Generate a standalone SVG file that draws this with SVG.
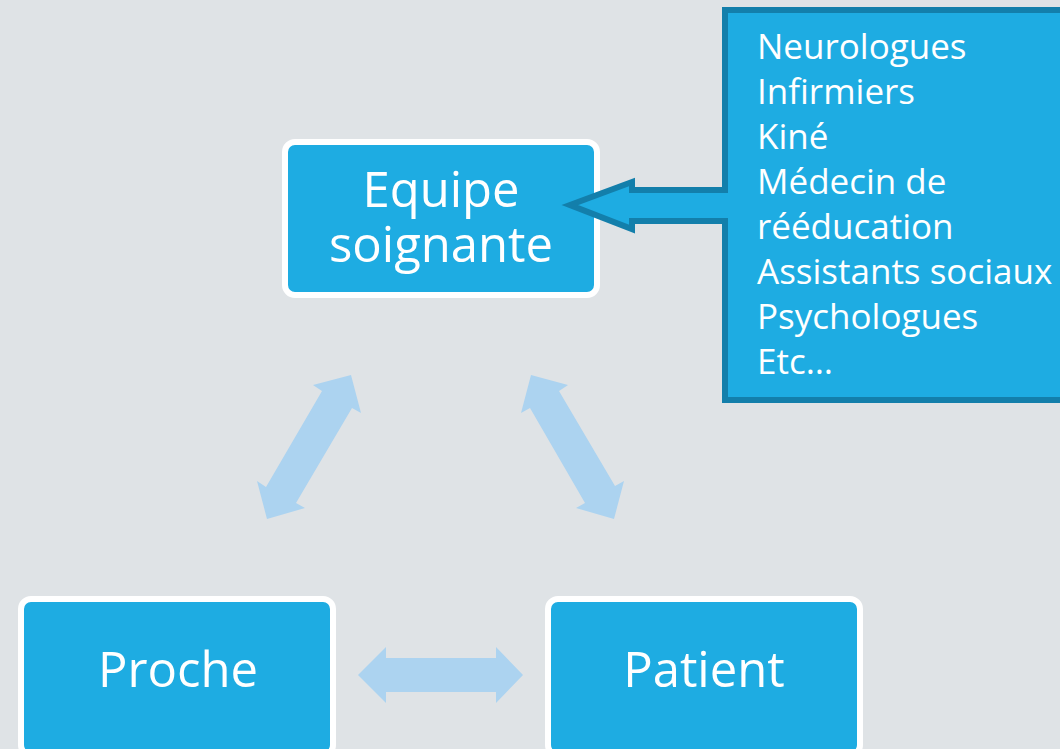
<svg xmlns="http://www.w3.org/2000/svg" width="1060" height="749" viewBox="0 0 1060 749">
<style>
.box{fill:#1eace2;stroke:#ffffff;stroke-width:6}
.lbl{fill:#ffffff;font-family:"Open Sans","DejaVu Sans",sans-serif;font-size:49px;text-anchor:middle}
.list{fill:#ffffff;font-family:"Open Sans","DejaVu Sans",sans-serif;font-size:35px}
.dbl{fill:#acd3f0}
</style>
<rect x="0" y="0" width="1060" height="749" fill="#dfe3e6"/>
<g id="connectors">
<polygon class="dbl" points="358,675 386,647 386,658 496,658 496,647 523,675 496,703 496,692 386,692 386,703"/>
<polygon class="dbl" points="351,375 361,413 352,408 296,503 305,508 267,519 257,481 266,487 322,391 313,385"/>
<polygon class="dbl" points="531,375 521,413 530,408 585,503 576,508 614,519 624,481 615,486 559,391 568,385"/>
</g>
<g id="node-equipe">
<rect class="box" x="285" y="142" width="312" height="153" rx="10"/>
<text class="lbl" x="441" y="207">Equipe</text>
<text class="lbl" x="441" y="262">soignante</text>
</g>
<g id="node-proche">
<rect class="box" x="21" y="599" width="312" height="156" rx="10"/>
<text class="lbl" x="178" y="687">Proche</text>
</g>
<g id="node-patient">
<rect class="box" x="548" y="599" width="312" height="156" rx="10"/>
<text class="lbl" x="704" y="687">Patient</text>
</g>
<g id="callout">
<path d="M725 10 H1075 V400 H725 V221 H632 V229 L570 205 L632 182 V190 H725 Z" fill="#1eace2" stroke="#137fab" stroke-width="6" stroke-linejoin="miter"/>
<text class="list" x="757" y="59">Neurologues</text>
<text class="list" x="757" y="104">Infirmiers</text>
<text class="list" x="757" y="149">Kiné</text>
<text class="list" x="757" y="194">Médecin de</text>
<text class="list" x="757" y="239">rééducation</text>
<text class="list" x="757" y="284">Assistants sociaux</text>
<text class="list" x="757" y="329">Psychologues</text>
<text class="list" x="757" y="374">Etc…</text>
</g>
</svg>
